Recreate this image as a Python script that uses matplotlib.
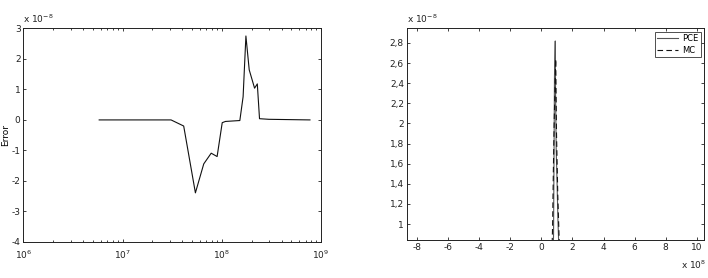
import numpy as np
import matplotlib
matplotlib.use('Agg')
import matplotlib.pyplot as plt
from matplotlib.ticker import FuncFormatter, LogLocator, MultipleLocator

# left panel: error vs. parameter (log x)
err_x = [5.81e6, 3.08e7, 4.13e7, 5.42e7, 6.58e7, 7.82e7, 8.97e7, 1.01e8,
         1.09e8, 1.52e8, 1.64e8, 1.75e8, 1.89e8, 2.14e8, 2.28e8, 2.40e8,
         2.98e8, 7.74e8]
err_y = [0.0, 0.0, -0.20e-8, -2.39e-8, -1.44e-8, -1.09e-8, -1.20e-8,
         -0.09e-8, -0.05e-8, -0.02e-8, 0.76e-8, 2.75e-8, 1.64e-8, 1.04e-8,
         1.18e-8, 0.04e-8, 0.02e-8, 0.0]

# right panel: PCE vs MC densities
pce_x = [0.70e8, 0.78e8, 0.84e8, 0.89e8, 0.91e8, 0.95e8, 1.00e8, 1.06e8, 1.20e8]
pce_y = [0.30e-8, 0.90e-8, 2.47e-8, 2.82e-8, 2.30e-8, 1.75e-8, 1.45e-8, 1.05e-8, 0.40e-8]
mc_x = [0.60e8, 0.72e8, 0.77e8, 0.82e8, 0.92e8, 0.97e8, 1.05e8, 1.25e8]
mc_y = [0.20e-8, 1.00e-8, 1.55e-8, 2.02e-8, 2.64e-8, 1.90e-8, 1.30e-8, 0.30e-8]

FS = 6.5
plt.rcParams['font.size'] = FS
plt.rcParams['font.family'] = 'DejaVu Sans'

fig = plt.figure(figsize=(7.08, 2.78), dpi=100)
ax1 = fig.add_axes([0.0330, 0.1295, 0.4204, 0.7685])
ax2 = fig.add_axes([0.5744, 0.1367, 0.4204, 0.7615])

for ax in (ax1, ax2):
    ax.tick_params(which='both', direction='in', top=True, right=True,
                   labelsize=FS, colors='#222222', width=0.6)
    ax.tick_params(which='major', length=2.5, pad=2)
    ax.tick_params(which='minor', length=1.5)
    for s in ax.spines.values():
        s.set_linewidth(0.7)
        s.set_color('#222222')

# left
ax1.plot(err_x, err_y, color='#111111', lw=0.8)
ax1.set_xscale('log')
ax1.set_xlim(1e6, 1e9)
ax1.set_ylim(-4e-8, 3e-8)
ax1.xaxis.set_major_locator(LogLocator(base=10, numticks=10))
ax1.xaxis.set_minor_locator(LogLocator(base=10, subs=np.arange(2, 10), numticks=20))
ax1.xaxis.set_major_formatter(FuncFormatter(lambda v, p: r'$10^{%d}$' % round(np.log10(v))))
ax1.xaxis.set_minor_formatter(FuncFormatter(lambda v, p: ''))
ax1.tick_params(axis='x', which='major', pad=5)
ax1.yaxis.set_major_locator(MultipleLocator(1e-8))
ax1.yaxis.set_major_formatter(FuncFormatter(lambda v, p: '%d' % round(v / 1e-8)))
ax1.set_ylabel('Error', fontsize=FS)
ax1.yaxis.set_label_coords(-0.045, 0.5)
ax1.text(0.0, 1.015, r'x $10^{-8}$', transform=ax1.transAxes, fontsize=FS,
         ha='left', va='bottom', color='#222222')

# right
ax2.plot(pce_x, pce_y, color='#555555', lw=0.8, label='PCE')
ax2.plot(mc_x, mc_y, color='#111111', lw=0.8, ls=(0, (5, 3)), label='MC')
ax2.set_xlim(-8.68e8, 10.49e8)
ax2.set_ylim(0.841e-8, 2.946e-8)
ax2.xaxis.set_major_locator(MultipleLocator(2e8))
ax2.xaxis.set_major_formatter(FuncFormatter(lambda v, p: '%d' % round(v / 1e8)))
ax2.yaxis.set_major_locator(MultipleLocator(0.2e-8))
ax2.yaxis.set_major_formatter(
    FuncFormatter(lambda v, p: ('%g' % round(v / 1e-8, 1)).replace('.', ',')))
ax2.text(0.0, 1.015, r'x $10^{-8}$', transform=ax2.transAxes, fontsize=FS,
         ha='left', va='bottom', color='#222222')
ax2.text(0.92, -0.09, r'x $10^{8}$', transform=ax2.transAxes, fontsize=FS,
         ha='left', va='top', color='#222222')
leg = ax2.legend(loc='upper right', fontsize=FS - 0.5, frameon=True, fancybox=False,
                 borderpad=0.3, handlelength=2.5, handletextpad=0.5,
                 labelspacing=0.3, borderaxespad=0.4)
leg.get_frame().set_edgecolor('#222222')
leg.get_frame().set_linewidth(0.7)

fig.savefig('out.png', dpi=100)
